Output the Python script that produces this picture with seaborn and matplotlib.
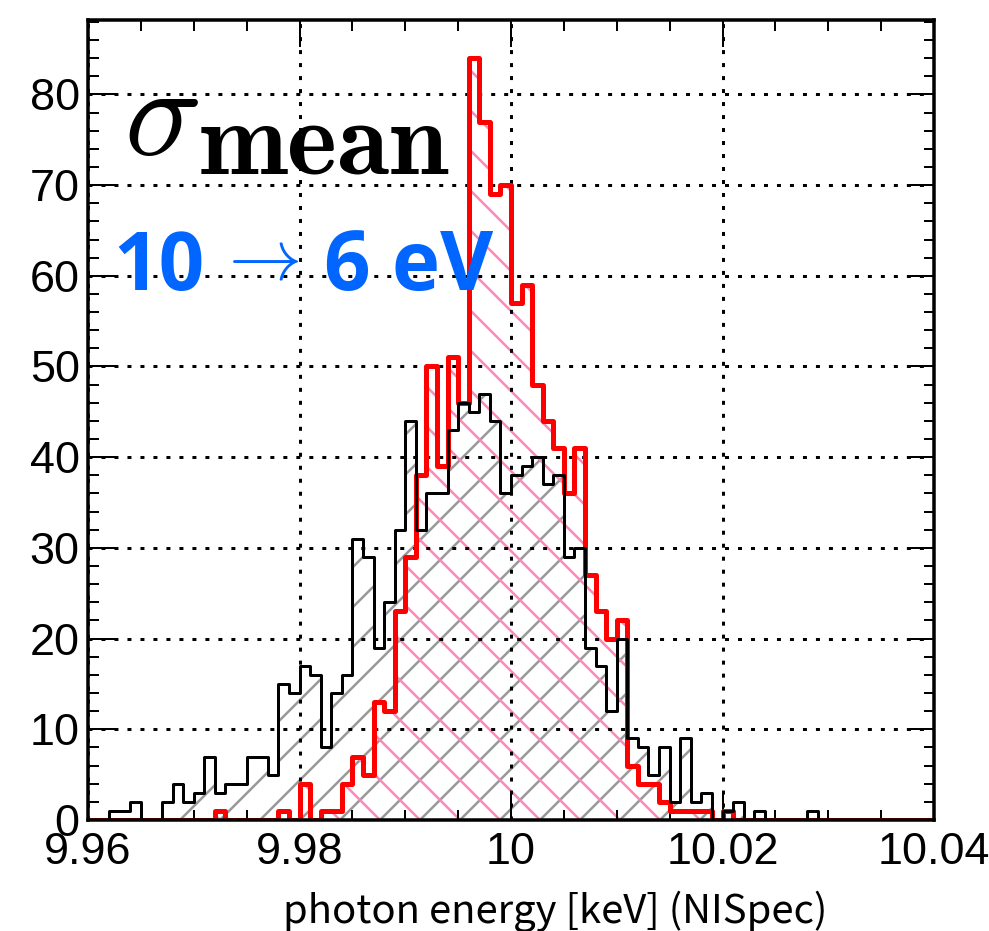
import numpy as np
import pandas as pd
import matplotlib
matplotlib.use("Agg")
import matplotlib.pyplot as plt
from matplotlib.ticker import MultipleLocator
import seaborn as sns

# binning of both histograms (keV)
bin_lo = 9.960
bin_hi = 10.040
n_bins = 80

# counts per bin
counts_black = [0, 0, 1, 1, 2, 0, 0, 2, 4, 2,
                3, 7, 3, 4, 4, 7, 7, 5, 15, 14,
                17, 16, 8, 14, 16, 31, 29, 19, 24, 32,
                44, 32, 36, 36, 43, 46, 45, 47, 44, 36,
                38, 39, 40, 37, 38, 29, 30, 19, 17, 12,
                20, 9, 8, 5, 8, 2, 9, 2, 3, 0,
                1, 2, 0, 1, 0, 0, 0, 0, 1, 0,
                0, 0, 0, 0, 0, 0, 0, 0, 0, 0]
counts_red = [0, 0, 0, 0, 0, 0, 0, 0, 0, 0,
              0, 0, 1, 0, 0, 0, 0, 0, 1, 0,
              4, 0, 1, 1, 4, 7, 5, 13, 12, 23,
              29, 38, 50, 39, 51, 46, 84, 77, 69, 70,
              57, 59, 48, 44, 41, 36, 41, 27, 23, 20,
              22, 6, 4, 4, 2, 1, 1, 1, 1, 0,
              1, 0, 0, 0, 0, 0, 0, 0, 0, 0,
              0, 0, 0, 0, 0, 0, 0, 0, 0, 0]

xtick_vals = [9.96, 9.98, 10.0, 10.02, 10.04]
xtick_labels = ["9.96", "9.98", "10", "10.02", "10.04"]
ytick_vals = [0, 10, 20, 30, 40, 50, 60, 70, 80]
xlabel = "photon energy [keV] (NISpec)"

edges = np.linspace(bin_lo, bin_hi, n_bins + 1)
centers = (edges[:-1] + edges[1:]) / 2
df = pd.DataFrame({
    "energy": np.concatenate([centers, centers]),
    "count": counts_black + counts_red,
    "set": ["black"] * n_bins + ["red"] * n_bins,
})

sns.set_style("ticks")
plt.rcParams["font.family"] = ["Liberation Sans", "DejaVu Sans"]
plt.rcParams["mathtext.fontset"] = "cm"
plt.rcParams["hatch.linewidth"] = 1.5
for k in ["text.color", "axes.labelcolor", "xtick.color", "ytick.color", "axes.edgecolor"]:
    plt.rcParams[k] = "black"

W, H = 989, 931
fig = plt.figure(figsize=(W / 120, H / 120), dpi=120)
ax = fig.add_axes([88 / W, 1 - 820 / H, 846 / W, 800 / H])

styles = {
    "black": dict(line="black", hatch_c="#999999", hatch="/", lw=1.8),
    "red": dict(line="#ff0000", hatch_c="#ff88bb", hatch="\\", lw=3.0),
}

# hatched fills first
for key in ["black", "red"]:
    st = styles[key]
    sub = df[df["set"] == key]
    sns.histplot(data=sub, x="energy", weights="count", bins=n_bins,
                 binrange=(bin_lo, bin_hi), element="step",
                 fill=True, color=st["hatch_c"], facecolor="none", edgecolor=st["hatch_c"],
                 linewidth=0, hatch=st["hatch"], ax=ax)

# outlines on top
for key in ["red", "black"]:
    st = styles[key]
    sub = df[df["set"] == key]
    sns.histplot(data=sub, x="energy", weights="count", bins=n_bins,
                 binrange=(bin_lo, bin_hi), element="step",
                 fill=False, color=st["line"], linewidth=st["lw"], ax=ax)

ax.set_xlim(bin_lo, bin_hi)
ax.set_ylim(0, 88.2)
ax.set_xticks(xtick_vals, xtick_labels)
ax.set_yticks(ytick_vals)
ax.xaxis.set_minor_locator(MultipleLocator(0.005))
ax.yaxis.set_minor_locator(MultipleLocator(2))
ax.tick_params(which="both", direction="in", top=True, right=True, width=1.2, color="black")
ax.tick_params(which="major", length=16)
ax.tick_params(which="minor", length=6.3)
ax.tick_params(axis="x", which="major", labelsize=27, pad=7)
ax.tick_params(axis="y", which="major", labelsize=27, pad=5)
for sp in ax.spines.values():
    sp.set_linewidth(2.1)
    sp.set_color("black")
    sp.set_visible(True)

ax.set_axisbelow("line")
ax.grid(True, which="major", color="black", linewidth=1.8, linestyle=(0, (1.33, 3)))

ax.set_ylabel("")
ax.set_xlabel(xlabel, fontsize=24, family=["Noto Sans CJK JP", "DejaVu Sans"])
ax.xaxis.set_label_coords((555 - 88) / 846, -0.088)

# annotations
fig.text(124 / W, 1 - 155 / H, r"$\sigma$", fontsize=77, va="baseline", ha="left")
fig.text(198 / W, 1 - 173 / H, r"$\mathbf{mean}$", fontsize=64, va="baseline", ha="left")
blue = "#0066ff"
fig.text(113 / W, 1 - 290 / H, "10", fontsize=48, weight="bold", color=blue,
         family=["Open Sans", "DejaVu Sans"], va="baseline", ha="left")
fig.text(216 / W, 1 - 280 / H, r"$\rightarrow$", fontsize=44, color=blue,
         va="baseline", ha="left")
fig.text(324 / W, 1 - 290 / H, "6 eV", fontsize=49, weight="bold", color=blue,
         family=["Open Sans", "DejaVu Sans"], va="baseline", ha="left")

fig.savefig("out.png", dpi=120)
